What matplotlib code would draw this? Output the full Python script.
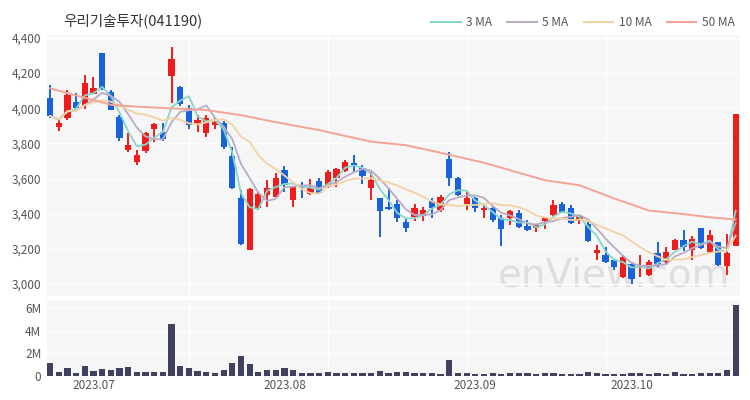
import numpy as np
import pandas as pd
import matplotlib
matplotlib.use("Agg")
import matplotlib.pyplot as plt
from matplotlib.lines import Line2D
from matplotlib.ticker import FuncFormatter

plt.rcParams['font.family'] = ['Noto Sans CJK KR', 'DejaVu Sans']

TITLE = '우리기술투자(041190)'

# daily candles (index 0 = first session shown)
opens  = [4058, 3895, 3942, 4037, 4018, 4081, 4313, 4094, 3952, 3762,
          3695, 3758, 3885, 3866, 4183, 4119, 3999, 3914, 3857, 3904,
          3914, 3728, 3487, 3196, 3435, 3505, 3496, 3649, 3477, 3557,
          3511, 3587, 3553, 3601, 3644, 3686, 3663, 3544, 3487, 3439,
          3454, 3353, 3382, 3386, 3473, 3420, 3714, 3606, 3454, 3487,
          3420, 3435, 3378, 3373, 3405, 3329, 3321, 3359, 3391, 3458,
          3435, 3359, 3344, 3177, 3163, 3135, 3040, 3116, 3101, 3050,
          3177, 3125, 3192, 3249, 3192, 3321, 3182, 3239, 3101, 3215]
highs  = [4132, 3933, 4104, 4087, 4189, 4180, 4315, 4104, 3961, 3860,
          3762, 3866, 3917, 3917, 4347, 4126, 4018, 3961, 3961, 3942,
          3927, 3781, 3534, 3549, 3524, 3591, 3629, 3671, 3553, 3581,
          3595, 3604, 3648, 3658, 3705, 3733, 3676, 3638, 3487, 3549,
          3477, 3378, 3458, 3439, 3487, 3505, 3752, 3610, 3524, 3496,
          3448, 3439, 3392, 3420, 3424, 3367, 3344, 3373, 3477, 3467,
          3448, 3392, 3355, 3220, 3211, 3145, 3164, 3125, 3164, 3135,
          3239, 3211, 3257, 3306, 3272, 3321, 3310, 3239, 3287, 3967]
lows   = [3944, 3872, 3933, 3990, 3994, 4081, 4104, 3990, 3815, 3750,
          3680, 3745, 3809, 3815, 4028, 4013, 3885, 3866, 3838, 3885,
          3766, 3538, 3221, 3196, 3420, 3439, 3496, 3524, 3439, 3487,
          3505, 3511, 3549, 3553, 3638, 3638, 3568, 3477, 3268, 3420,
          3353, 3296, 3359, 3359, 3378, 3411, 3557, 3501, 3424, 3411,
          3373, 3353, 3215, 3334, 3321, 3302, 3296, 3315, 3386, 3411,
          3344, 3344, 3240, 3135, 3120, 3082, 3036, 3002, 3040, 3046,
          3097, 3116, 3192, 3188, 3139, 3200, 3179, 3103, 3050, 3215]
closes = [3956, 3917, 4075, 4000, 4144, 4113, 4108, 3990, 3829, 3790,
          3733, 3857, 3910, 3828, 4279, 4024, 3904, 3933, 3942, 3923,
          3777, 3544, 3230, 3538, 3511, 3544, 3601, 3563, 3553, 3544,
          3549, 3519, 3638, 3652, 3695, 3676, 3614, 3591, 3416, 3426,
          3373, 3319, 3430, 3424, 3435, 3496, 3601, 3505, 3487, 3430,
          3430, 3367, 3312, 3414, 3325, 3310, 3334, 3373, 3448, 3411,
          3348, 3386, 3243, 3192, 3125, 3097, 3154, 3031, 3111, 3125,
          3116, 3182, 3253, 3211, 3259, 3207, 3277, 3107, 3177, 3967]
volumes = [1.13, 0.36, 0.71, 0.27, 0.86, 0.47, 0.65, 0.53, 0.68, 0.83,
           0.38, 0.36, 0.38, 0.38, 4.59, 0.92, 0.71, 0.44, 0.33, 0.30,
           0.56, 1.19, 1.78, 1.04, 0.33, 0.50, 0.50, 0.68, 0.53, 0.24,
           0.24, 0.27, 0.33, 0.24, 0.24, 0.24, 0.30, 0.30, 0.41, 0.27,
           0.33, 0.33, 0.30, 0.30, 0.30, 0.18, 1.42, 0.30, 0.24, 0.21,
           0.18, 0.27, 0.21, 0.30, 0.27, 0.24, 0.21, 0.24, 0.27, 0.15,
           0.18, 0.18, 0.36, 0.24, 0.21, 0.21, 0.15, 0.27, 0.24, 0.21,
           0.24, 0.21, 0.33, 0.18, 0.18, 0.24, 0.24, 0.30, 0.53, 6.31]  # millions

ma50_idx = [0, 4, 7, 10, 18, 22, 26, 31, 37, 41, 45, 50, 57, 61, 65, 69, 73, 76, 79]
ma50_val = [4113, 4060, 4020, 4009, 3990, 3961, 3921, 3876, 3810, 3790,
            3747, 3690, 3591, 3562, 3487, 3418, 3398, 3380, 3367]

month_idx    = [5, 27, 49, 67]
month_labels = ['2023.07', '2023.08', '2023.09', '2023.10']

UP, DOWN = '#f01c1c', '#1862dc'
MA_COLORS = {'3 MA': '#86d6cb', '5 MA': '#b9abc6', '10 MA': '#f3d2a2', '50 MA': '#f5a397'}

df = pd.DataFrame({'open': opens, 'high': highs, 'low': lows, 'close': closes})
x = np.arange(len(df))
colors = [UP if c >= o else DOWN for o, c in zip(df.open, df.close)]

fig = plt.figure(figsize=(7.5, 4), dpi=100)
ax = fig.add_axes([0.0627, 0.26, 0.924, 0.6525])
axv = fig.add_axes([0.0627, 0.06, 0.924, 0.19], sharex=ax)

for a in (ax, axv):
    a.set_facecolor('#f6f6f7')
    for s in a.spines.values():
        s.set_visible(False)
    a.tick_params(length=0, labelsize=8.5, labelcolor='#555555', pad=4)
    for gx in [16, 32, 48, 64]:
        a.axvline(gx, color='white', lw=1, zorder=0)

ax.text(0.818, 0.08, 'enView.com', transform=ax.transAxes, ha='center', va='center',
        fontsize=28, color='#cfcfcf', alpha=0.6, family='DejaVu Sans', zorder=1)

# candles
ax.vlines(x, df.low, df.high, colors=colors, lw=1.4, zorder=2)
body_h = np.maximum((df.close - df.open).abs(), 6)
ax.bar(x, body_h, bottom=np.minimum(df.open, df.close), width=0.72,
       color=colors, zorder=2)

# moving averages
for n in (3, 5, 10):
    ma = df.close.rolling(n, min_periods=1).mean()
    ax.plot(x, ma, color=MA_COLORS[f'{n} MA'], lw=1.3, zorder=3)
ax.plot(ma50_idx, ma50_val, color=MA_COLORS['50 MA'], lw=1.4, zorder=3)

ax.set_xlim(-0.35, 79.5)
ax.set_ylim(2932, 4417)
ax.set_yticks(range(3000, 4401, 200))
ax.yaxis.set_major_formatter(FuncFormatter(lambda v, p: f'{int(v):,}'))
ax.grid(axis='y', color='white', lw=1, zorder=0)
ax.tick_params(axis='x', labelbottom=False)

# volume
axv.bar(x, volumes, width=0.72, color='#40405f', zorder=2)
axv.set_ylim(0, 6.74)
axv.set_yticks([0, 2, 4, 6])
axv.set_yticklabels(['0', '2M', '4M', '6M'])
axv.grid(axis='y', color='white', lw=1, zorder=0)
axv.set_xticks(month_idx)
axv.set_xticklabels(month_labels)
axv.tick_params(axis='x', pad=2)

fig.text(0.084, 0.948, TITLE, fontsize=10.5, color='#333333', ha='left', va='center')

handles = [Line2D([], [], color=c, lw=1.5) for c in MA_COLORS.values()]
fig.legend(handles, list(MA_COLORS.keys()), loc='center right',
           bbox_to_anchor=(0.979, 0.943), ncol=4, frameon=False, fontsize=8.5,
           handlelength=2.5, handletextpad=0.45, columnspacing=1.3,
           labelcolor='#555555', borderaxespad=0, borderpad=0)

fig.savefig('out.png', dpi=100)
